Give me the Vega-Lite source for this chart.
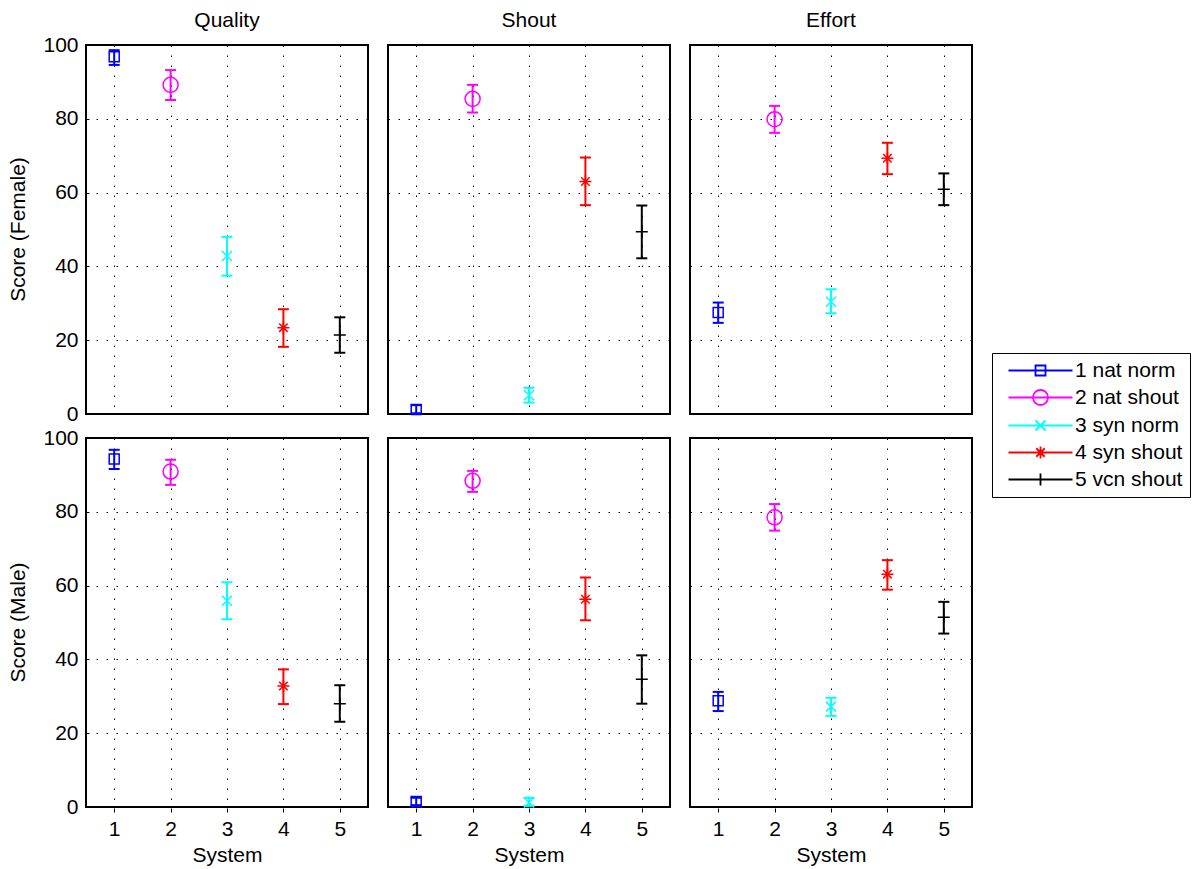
{
  "$schema": "https://vega.github.io/schema/vega-lite/v6.json",
  "background": "white",
  "padding": {"left": 7, "top": 10, "right": 5, "bottom": 5},
  "data": {
    "values": [
      {"gender": "Score (Female)", "measure": "Quality", "system": 1, "series": "1 nat norm", "mean": 96.8, "lo": 94.6, "hi": 98.6},
      {"gender": "Score (Female)", "measure": "Quality", "system": 2, "series": "2 nat shout", "mean": 89.2, "lo": 85.1, "hi": 93.2},
      {"gender": "Score (Female)", "measure": "Quality", "system": 3, "series": "3 syn norm", "mean": 42.8, "lo": 37.5, "hi": 48.0},
      {"gender": "Score (Female)", "measure": "Quality", "system": 4, "series": "4 syn shout", "mean": 23.4, "lo": 18.2, "hi": 28.4},
      {"gender": "Score (Female)", "measure": "Quality", "system": 5, "series": "5 vcn shout", "mean": 21.4, "lo": 16.6, "hi": 26.2},
      {"gender": "Score (Female)", "measure": "Shout", "system": 1, "series": "1 nat norm", "mean": 1.2, "lo": 0.2, "hi": 2.4},
      {"gender": "Score (Female)", "measure": "Shout", "system": 2, "series": "2 nat shout", "mean": 85.4, "lo": 81.7, "hi": 89.2},
      {"gender": "Score (Female)", "measure": "Shout", "system": 3, "series": "3 syn norm", "mean": 5.1, "lo": 3.1, "hi": 7.1},
      {"gender": "Score (Female)", "measure": "Shout", "system": 4, "series": "4 syn shout", "mean": 63.0, "lo": 56.6, "hi": 69.5},
      {"gender": "Score (Female)", "measure": "Shout", "system": 5, "series": "5 vcn shout", "mean": 49.4, "lo": 42.2, "hi": 56.5},
      {"gender": "Score (Female)", "measure": "Effort", "system": 1, "series": "1 nat norm", "mean": 27.5, "lo": 24.7, "hi": 30.2},
      {"gender": "Score (Female)", "measure": "Effort", "system": 2, "series": "2 nat shout", "mean": 79.9, "lo": 76.2, "hi": 83.5},
      {"gender": "Score (Female)", "measure": "Effort", "system": 3, "series": "3 syn norm", "mean": 30.4, "lo": 27.3, "hi": 33.8},
      {"gender": "Score (Female)", "measure": "Effort", "system": 4, "series": "4 syn shout", "mean": 69.3, "lo": 65.0, "hi": 73.5},
      {"gender": "Score (Female)", "measure": "Effort", "system": 5, "series": "5 vcn shout", "mean": 60.9, "lo": 56.6, "hi": 65.2},
      {"gender": "Score (Male)", "measure": "Quality", "system": 1, "series": "1 nat norm", "mean": 94.3, "lo": 91.6, "hi": 96.8},
      {"gender": "Score (Male)", "measure": "Quality", "system": 2, "series": "2 nat shout", "mean": 90.9, "lo": 87.3, "hi": 94.1},
      {"gender": "Score (Male)", "measure": "Quality", "system": 3, "series": "3 syn norm", "mean": 55.9, "lo": 50.9, "hi": 60.9},
      {"gender": "Score (Male)", "measure": "Quality", "system": 4, "series": "4 syn shout", "mean": 32.8, "lo": 27.9, "hi": 37.3},
      {"gender": "Score (Male)", "measure": "Quality", "system": 5, "series": "5 vcn shout", "mean": 28.0, "lo": 23.1, "hi": 33.0},
      {"gender": "Score (Male)", "measure": "Shout", "system": 1, "series": "1 nat norm", "mean": 1.5, "lo": 0.5, "hi": 2.5},
      {"gender": "Score (Male)", "measure": "Shout", "system": 2, "series": "2 nat shout", "mean": 88.4, "lo": 85.4, "hi": 91.1},
      {"gender": "Score (Male)", "measure": "Shout", "system": 3, "series": "3 syn norm", "mean": 1.2, "lo": 0.3, "hi": 2.5},
      {"gender": "Score (Male)", "measure": "Shout", "system": 4, "series": "4 syn shout", "mean": 56.3, "lo": 50.6, "hi": 62.2},
      {"gender": "Score (Male)", "measure": "Shout", "system": 5, "series": "5 vcn shout", "mean": 34.6, "lo": 28.0, "hi": 41.1},
      {"gender": "Score (Male)", "measure": "Effort", "system": 1, "series": "1 nat norm", "mean": 28.8, "lo": 26.0, "hi": 31.2},
      {"gender": "Score (Male)", "measure": "Effort", "system": 2, "series": "2 nat shout", "mean": 78.5, "lo": 74.9, "hi": 82.1},
      {"gender": "Score (Male)", "measure": "Effort", "system": 3, "series": "3 syn norm", "mean": 27.2, "lo": 24.7, "hi": 29.6},
      {"gender": "Score (Male)", "measure": "Effort", "system": 4, "series": "4 syn shout", "mean": 63.1, "lo": 58.9, "hi": 66.9},
      {"gender": "Score (Male)", "measure": "Effort", "system": 5, "series": "5 vcn shout", "mean": 51.4, "lo": 47.0, "hi": 55.6}
    ]
  },
  "facet": {
    "row": {
      "field": "gender", "type": "nominal", "sort": ["Score (Female)", "Score (Male)"],
      "header": {"title": null, "labelAngle": -90, "labelOrient": "left", "labelFontSize": 21, "labelFont": "Liberation Sans", "labelColor": "black", "labelPadding": 3}
    },
    "column": {
      "field": "measure", "type": "nominal", "sort": ["Quality", "Shout", "Effort"],
      "header": {"title": null, "labelFontSize": 21, "labelFont": "Liberation Sans", "labelColor": "black", "labelPadding": 13}
    }
  },
  "spacing": {"row": 18, "column": 18},
  "spec": {
    "width": 282,
    "height": 369,
    "encoding": {
      "x": {
        "field": "system", "type": "quantitative",
        "scale": {"domain": [0.5, 5.5], "nice": false, "zero": false},
        "axis": {"title": "System", "values": [1, 2, 3, 4, 5], "format": "d", "labelPadding": 10, "titlePadding": 5}
      },
      "color": {
        "field": "series", "type": "nominal",
        "scale": {"domain": ["1 nat norm", "2 nat shout", "3 syn norm", "4 syn shout", "5 vcn shout"], "range": ["#0000ff", "#ff00ff", "#00ffff", "#ff0000", "#000000"]},
        "legend": {
          "title": null, "orient": "none", "legendX": 906, "legendY": 308,
          "strokeColor": "black", "fillColor": "white", "padding": 7,
          "labelFontSize": 21, "labelFont": "Liberation Sans", "labelColor": "black",
          "symbolSize": 256, "symbolOffset": 31, "labelOffset": 24, "rowPadding": 5,
          "symbolStrokeWidth": 1.8, "symbolOpacity": 1
        }
      }
    },
    "layer": [
      {
        "mark": {"type": "rule", "strokeWidth": 2},
        "encoding": {
          "y": {"field": "lo", "type": "quantitative", "scale": {"domain": [0, 100], "nice": false}, "axis": {"title": null, "values": [0, 20, 40, 60, 80, 100], "labelPadding": 11}},
          "y2": {"field": "hi"}
        }
      },
      {
        "mark": {"type": "rule", "strokeWidth": 2, "xOffset": -5.5, "x2Offset": 5.5},
        "encoding": {
          "x2": {"field": "system"},
          "y": {"field": "lo", "type": "quantitative"}
        }
      },
      {
        "mark": {"type": "rule", "strokeWidth": 2, "xOffset": -5.5, "x2Offset": 5.5},
        "encoding": {
          "x2": {"field": "system"},
          "y": {"field": "hi", "type": "quantitative"}
        }
      },
      {
        "transform": [{"filter": "datum.series == '1 nat norm'"}],
        "mark": {"type": "point", "shape": "M-0.625,-0.625H0.625V0.625H-0.625Z", "filled": false, "size": 256, "strokeWidth": 1.5, "opacity": 1},
        "encoding": {"y": {"field": "mean", "type": "quantitative"}}
      },
      {
        "transform": [{"filter": "datum.series == '2 nat shout'"}],
        "mark": {"type": "point", "shape": "M-0.94,0A0.94,0.94,0,1,0,0.94,0A0.94,0.94,0,1,0,-0.94,0Z", "filled": false, "size": 256, "strokeWidth": 1.5, "opacity": 1},
        "encoding": {"y": {"field": "mean", "type": "quantitative"}}
      },
      {
        "transform": [{"filter": "datum.series == '3 syn norm'"}],
        "mark": {"type": "point", "shape": "M-0.625,-0.625L0.625,0.625M-0.625,0.625L0.625,-0.625", "filled": false, "size": 256, "strokeWidth": 1.5, "opacity": 1},
        "encoding": {"y": {"field": "mean", "type": "quantitative"}}
      },
      {
        "transform": [{"filter": "datum.series == '4 syn shout'"}],
        "mark": {"type": "point", "shape": "M-0.75,0H0.75M0,-0.75V0.75M-0.53,-0.53L0.53,0.53M-0.53,0.53L0.53,-0.53", "filled": false, "size": 256, "strokeWidth": 1.5, "opacity": 1},
        "encoding": {"y": {"field": "mean", "type": "quantitative"}}
      },
      {
        "transform": [{"filter": "datum.series == '5 vcn shout'"}],
        "mark": {"type": "point", "shape": "M-0.75,0H0.75M0,-0.75V0.75", "filled": false, "size": 256, "strokeWidth": 1.5, "opacity": 1},
        "encoding": {"y": {"field": "mean", "type": "quantitative"}}
      },
      {
        "mark": {"type": "point", "filled": false, "size": 1, "strokeWidth": 1.5, "opacity": 0},
        "encoding": {
          "y": {"field": "mean", "type": "quantitative"},
          "shape": {
            "field": "series", "type": "nominal",
            "scale": {"domain": ["1 nat norm", "2 nat shout", "3 syn norm", "4 syn shout", "5 vcn shout"], "range": ["M-4,0H4M-0.625,-0.625H0.625V0.625H-0.625Z", "M-4,0H4M-0.94,0A0.94,0.94,0,1,0,0.94,0A0.94,0.94,0,1,0,-0.94,0Z", "M-4,0H4M-0.625,-0.625L0.625,0.625M-0.625,0.625L0.625,-0.625", "M-4,0H4M0,-0.75V0.75M-0.53,-0.53L0.53,0.53M-0.53,0.53L0.53,-0.53", "M-4,0H4M0,-0.75V0.75"]},
            "legend": {
              "title": null, "orient": "none", "legendX": 906, "legendY": 308,
              "strokeColor": "black", "fillColor": "white", "padding": 7,
              "labelFontSize": 21, "labelFont": "Liberation Sans", "labelColor": "black",
              "symbolSize": 256, "symbolOffset": 31, "labelOffset": 24, "rowPadding": 5,
              "symbolStrokeWidth": 1.8, "symbolOpacity": 1
            }
          }
        }
      }
    ]
  },
  "config": {
    "view": {"stroke": "black", "strokeWidth": 2},
    "axis": {
      "domain": false, "grid": true, "gridColor": "black", "gridOpacity": 1, "gridWidth": 1, "gridDash": [1.5, 8.5],
      "tickColor": "black", "tickSize": -4, "tickWidth": 1,
      "labelFontSize": 21, "labelFont": "Liberation Sans", "labelColor": "black",
      "titleFontSize": 21, "titleFont": "Liberation Sans", "titleColor": "black", "titleFontWeight": "normal"
    }
  }
}
